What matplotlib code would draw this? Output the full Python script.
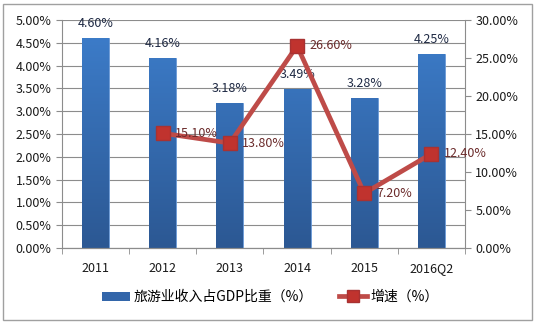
import matplotlib
matplotlib.use('Agg')
import numpy as np
import matplotlib.pyplot as plt
from matplotlib.patches import Rectangle
from matplotlib.lines import Line2D
from matplotlib.colors import LinearSegmentedColormap
from matplotlib.ticker import MultipleLocator, FuncFormatter

plt.rcParams['font.family'] = ['Noto Sans CJK SC', 'DejaVu Sans']

# Data
years = ['2011', '2012', '2013', '2014', '2015', '2016Q2']
share = [4.60, 4.16, 3.18, 3.49, 3.28, 4.25]          # 旅游业收入占GDP比重 (%)
growth_years = ['2012', '2013', '2014', '2015', '2016Q2']
growth = [15.10, 13.80, 26.60, 7.20, 12.40]            # 增速 (%)

bar_color = '#3A72BE'
line_color = '#BE4B48'
grid_color = '#8C8C8C'
grad = LinearSegmentedColormap.from_list('bar', ['#2C5893', '#3D7ECC'])

fig = plt.figure(figsize=(5.35, 3.23), dpi=100)
ax = fig.add_axes([62/535, 1 - 248/323, (465 - 62)/535, (248 - 20)/323])
ax2 = ax.twinx()

x = list(range(len(years)))
bars = ax.bar(x, share, width=0.4, color=bar_color, edgecolor='#6A9AD6',
              linewidth=0.6, zorder=2)
# vertical gradient inside each bar
for b in bars:
    x0, w, h = b.get_x(), b.get_width(), b.get_height()
    img = ax.imshow(np.linspace(0, 1, 100).reshape(-1, 1) * h / 5.0, cmap=grad,
                    vmin=0, vmax=1, extent=(x0, x0 + w, 0, h), origin='lower',
                    aspect='auto', zorder=2.1)
    img.set_clip_path(b)
for xi, v in zip(x, share):
    ax.annotate('%.2f%%' % v, (xi, v), xytext=(0, 6), textcoords='offset points',
                ha='center', va='bottom', fontsize=9, color='#1F2A44')

gx = [years.index(y) for y in growth_years]
ax2.plot(gx, growth, color=line_color, linewidth=3.4, marker='s', markersize=9.5,
         markerfacecolor='#C0332E', markeredgecolor='#A83232', zorder=3)
for xi, v in zip(gx, growth):
    ax2.annotate('%.2f%%' % v, (xi, v), xytext=(9, 0), textcoords='offset points',
                 ha='left', va='center', fontsize=9, color='#6B2B2B')

ax.set_xlim(-0.5, len(years) - 0.5)
ax.set_ylim(0, 5.0)
ax2.set_ylim(0, 30)
ax.yaxis.set_major_locator(MultipleLocator(0.5))
ax2.yaxis.set_major_locator(MultipleLocator(5))
ax.yaxis.set_major_formatter(FuncFormatter(lambda v, p: '%.2f%%' % v))
ax2.yaxis.set_major_formatter(FuncFormatter(lambda v, p: '%.2f%%' % v))
ax.grid(axis='y', color=grid_color, linewidth=0.8, zorder=0)
ax.set_axisbelow(True)

ax.set_xticks(x)
ax.set_xticklabels(years, fontsize=9, color='#1A1A1A')
ax.set_xticks([i + 0.5 for i in x[:-1]] + [-0.5, len(years) - 0.5], minor=True)
ax.tick_params(axis='x', which='major', length=0, pad=10)
ax.tick_params(axis='x', which='minor', length=4, color=grid_color, direction='out')
ax.tick_params(axis='y', labelsize=9, length=4, color=grid_color, labelcolor='#1A1A1A')
ax2.tick_params(axis='y', labelsize=9, length=4, color=grid_color, labelcolor='#1A1A1A')

for a in (ax, ax2):
    a.spines['top'].set_visible(False)
    a.spines['left'].set_color(grid_color)
    a.spines['right'].set_color(grid_color)
    a.spines['bottom'].set_color(grid_color)
ax2.spines['left'].set_visible(False)
ax.spines['right'].set_visible(False)

handles = [Rectangle((0, 0), 1, 1, facecolor='#3366AA'),
           Line2D([], [], color=line_color, linewidth=3.4, marker='s', markersize=8,
                  markerfacecolor='#C0332E', markeredgecolor='#A83232')]
fig.legend(handles, ['旅游业收入占GDP比重（%）', '增速（%）'], loc='center',
           bbox_to_anchor=(0.505, 1 - 297/323), ncol=2, frameon=False,
           fontsize=10, handlelength=2.0, handleheight=0.6, columnspacing=1.9,
           handletextpad=0.25)

fig.patches.append(Rectangle((3/535, 3/323), 529/535, 316/323, transform=fig.transFigure,
                             fill=False, edgecolor='#A0A0A0', linewidth=1))

fig.savefig('out.png', dpi=100)
